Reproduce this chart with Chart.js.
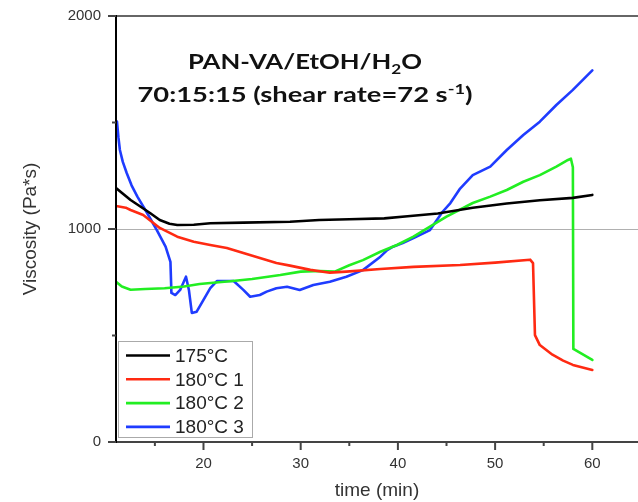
<!DOCTYPE html>
<html><head><meta charset="utf-8">
<script src="https://cdn.jsdelivr.net/npm/chart.js@4/dist/chart.umd.min.js"></script>
<style>html,body{margin:0;padding:0;background:#fff;}canvas{display:block;}</style>
</head><body>
<canvas id="c" width="638" height="502"></canvas>
<script>
// ---- data (time in min, viscosity in Pa*s) ----
const seriesLabels = ["175\u00B0C", "180\u00B0C 1", "180\u00B0C 2", "180\u00B0C 3"];
const seriesColors = ["#000000", "#ff2a12", "#22ee22", "#1f3cff"];

const t175 = [11, 12.5, 14.5, 15.5, 16.5, 17.3, 19, 20.7, 24.1, 28.9, 31.9, 35, 38.6, 41, 44.1, 47.7, 51.2, 54.6, 58, 60];
const v175 = [1192, 1136, 1075, 1042, 1025, 1019, 1020, 1027, 1030, 1034, 1042, 1046, 1050, 1060, 1073, 1100, 1120, 1135, 1146, 1160];

const t180a = [11, 12, 12.5, 13.8, 15.5, 17.3, 19, 20.7, 22.4, 24.1, 25.8, 27.5, 28.9, 31, 33, 34.7, 38.2, 41.6, 46.4, 50, 53.6, 53.9, 54.1, 54.6, 55.9, 57, 58, 59, 60];
const v180a = [1108, 1100, 1089, 1066, 1005, 964, 940, 925, 911, 887, 864, 840, 828, 808, 795, 800, 812, 822, 831, 842, 856, 840, 502, 455, 410, 382, 362, 350, 338];

const t180b = [11, 11.6, 12.5, 14, 16, 18, 19.6, 21, 23, 25, 27.9, 30, 32, 33.5, 35, 36.4, 38.2, 39.9, 41.6, 43.3, 45, 47.7, 49.5, 51.2, 52.9, 54.6, 56.3, 57.5, 57.8, 58.0, 58.05, 60];
const v180b = [752, 730, 715, 718, 722, 730, 742, 748, 756, 765, 784, 800, 803, 800, 830, 854, 893, 925, 964, 1011, 1058, 1122, 1152, 1183, 1222, 1253, 1293, 1324, 1330, 1290, 437, 385];

const t180c = [11.1, 11.25, 11.4, 11.7, 12.1, 12.6, 13.2, 14.2, 15.2, 16.1, 16.6, 16.7, 17.1, 17.6, 18.2, 18.5, 18.8, 19.3, 20, 20.7, 21.4, 23.1, 24.1, 24.8, 25.8, 26.5, 27.5, 28.6, 29.9, 31.3, 33, 34.7, 36.4, 38.2, 38.9, 39.5, 40.5, 41.6, 43.3, 44.6, 45.4, 46.4, 47.7, 49.5, 51.2, 52.9, 54.6, 56.3, 58, 60];
const v180c = [1504, 1430, 1371, 1315, 1263, 1205, 1152, 1075, 995, 917, 846, 700, 690, 714, 776, 714, 606, 612, 667, 722, 756, 756, 714, 682, 690, 706, 722, 729, 714, 737, 752, 776, 807, 870, 901, 917, 934, 957, 995, 1081, 1122, 1190, 1253, 1293, 1371, 1441, 1504, 1582, 1653, 1745];

const xTickLabels = [20, 30, 40, 50, 60];
const xMinorTicks = [15, 25, 35, 45, 55];
const yTickLabels = [0, 1000, 2000];
const yMinorTicks = [500, 1500];

const seriesT = [t175, t180a, t180b, t180c];
const seriesV = [v175, v180a, v180b, v180c];

const datasets = seriesT.map((ts, i) => ({
  label: seriesLabels[i],
  data: ts.map((t, k) => ({x: t, y: seriesV[i][k]})),
  borderColor: seriesColors[i],
  backgroundColor: seriesColors[i],
  borderWidth: 2.6,
  pointRadius: 0,
  fill: false,
  tension: 0,
  borderJoinStyle: 'round',
  borderCapStyle: 'round'
}));

const decorPlugin = {
  id: 'decor',
  beforeDatasetsDraw(chart) {
    const {ctx, chartArea: a, scales: {y}} = chart;
    ctx.save();
    ctx.strokeStyle = '#b0b0b0'; ctx.lineWidth = 1;
    const g = Math.round(y.getPixelForValue(1000)) + 0.5;
    ctx.beginPath(); ctx.moveTo(a.left, g); ctx.lineTo(a.right, g); ctx.stroke();
    ctx.restore();
  },
  afterDatasetsDraw(chart) {
    const {ctx, chartArea: a, scales: {x, y}} = chart;
    ctx.save();
    // top border
    ctx.strokeStyle = '#666'; ctx.lineWidth = 2;
    ctx.beginPath(); ctx.moveTo(a.left, a.top); ctx.lineTo(a.right, a.top); ctx.stroke();
    // bottom axis
    ctx.strokeStyle = '#444';
    ctx.beginPath(); ctx.moveTo(a.left - 8, a.bottom); ctx.lineTo(a.right, a.bottom); ctx.stroke();
    xTickLabels.forEach(v => { const px = x.getPixelForValue(v); ctx.beginPath(); ctx.moveTo(px, a.bottom); ctx.lineTo(px, a.bottom + 8); ctx.stroke(); });
    xMinorTicks.forEach(v => { const px = x.getPixelForValue(v); ctx.beginPath(); ctx.moveTo(px, a.bottom); ctx.lineTo(px, a.bottom + 4); ctx.stroke(); });
    // left axis
    ctx.strokeStyle = '#000';
    ctx.beginPath(); ctx.moveTo(a.left, a.top - 1); ctx.lineTo(a.left, a.bottom + 1); ctx.stroke();
    ctx.strokeStyle = '#444';
    yTickLabels.forEach(v => { const py = y.getPixelForValue(v); ctx.beginPath(); ctx.moveTo(a.left - 8, py); ctx.lineTo(a.left, py); ctx.stroke(); });
    yMinorTicks.forEach(v => { const py = y.getPixelForValue(v); ctx.beginPath(); ctx.moveTo(a.left - 4, py); ctx.lineTo(a.left, py); ctx.stroke(); });

    // legend
    const lx = 118, ly = 341, lw = 134, lh = 96;
    ctx.fillStyle = '#fff'; ctx.fillRect(lx, ly, lw, lh);
    ctx.strokeStyle = '#aaa'; ctx.lineWidth = 1;
    ctx.strokeRect(lx + 0.5, ly + 0.5, lw, lh);
    ctx.font = '19px "Liberation Sans", Arial, sans-serif';
    ctx.textBaseline = 'middle'; ctx.textAlign = 'left';
    chart.data.datasets.forEach((ds, i) => {
      const ry = ly + 14.5 + i * 23.8;
      ctx.strokeStyle = ds.borderColor; ctx.lineWidth = 2.6;
      ctx.beginPath(); ctx.moveTo(lx + 8, ry); ctx.lineTo(lx + 52, ry); ctx.stroke();
      ctx.fillStyle = '#222';
      ctx.fillText(ds.label, lx + 57, ry + 1);
    });

    // title text (horizontally fitted to the reference widths)
    const big = 'bold 21px Lato, sans-serif';
    const small = 'bold 14px Lato, sans-serif';
    const drawRuns = (runs, cx, base, targetW) => {
      let w = 0;
      runs.forEach(r => { ctx.font = r[1]; w += ctx.measureText(r[0]).width; });
      const sx = targetW / w;
      ctx.save();
      ctx.translate(cx - targetW / 2, 0);
      ctx.scale(sx, 1);
      let xx = 0;
      ctx.textBaseline = 'alphabetic'; ctx.fillStyle = '#111';
      runs.forEach(r => { ctx.font = r[1]; ctx.fillText(r[0], xx, base + r[2]); xx += ctx.measureText(r[0]).width; });
      ctx.restore();
    };
    drawRuns([["PAN-VA/EtOH/H", big, 0], ["2", small, 5], ["O", big, 0]], 305, 69, 234);
    drawRuns([["70:15:15 (shear rate=72 s", big, 0], ["-1", small, -8], [")", big, 0]], 305, 102, 335);
    ctx.restore();
  }
};

new Chart(document.getElementById('c'), {
  type: 'line',
  data: {datasets},
  options: {
    responsive: false,
    animation: false,
    events: [],
    layout: {padding: {top: 16, right: 0, left: 0, bottom: 0}},
    plugins: {legend: {display: false}, tooltip: {enabled: false}},
    scales: {
      x: {
        type: 'linear', min: 11, max: 64.7,
        afterBuildTicks: s => { s.ticks = xTickLabels.map(v => ({value: v})); },
        afterFit: s => { s.height = 60; },
        grid: {display: false, drawTicks: true, tickLength: 8},
        border: {display: false},
        ticks: {color: '#333', font: {size: 15, family: '"Liberation Sans", Arial, sans-serif'}, padding: 5, maxRotation: 0, callback: v => String(v)},
        title: {display: true, text: 'time (min)', color: '#333', font: {size: 19, family: '"Liberation Sans", Arial, sans-serif'}, padding: {top: 0, bottom: 0}}
      },
      y: {
        type: 'linear', min: 0, max: 2000,
        afterBuildTicks: s => { s.ticks = yTickLabels.map(v => ({value: v})); },
        afterFit: s => { s.width = 116; },
        grid: {display: false, drawTicks: true, tickLength: 8},
        border: {display: false},
        ticks: {color: '#333', font: {size: 15, family: '"Liberation Sans", Arial, sans-serif'}, padding: 7, callback: v => String(v)},
        title: {display: true, text: 'Viscosity (Pa*s)', color: '#333', font: {size: 19, family: '"Liberation Sans", Arial, sans-serif'}, padding: {top: 19, bottom: 0}}
      }
    }
  },
  plugins: [decorPlugin]
});
</script>
</body></html>
